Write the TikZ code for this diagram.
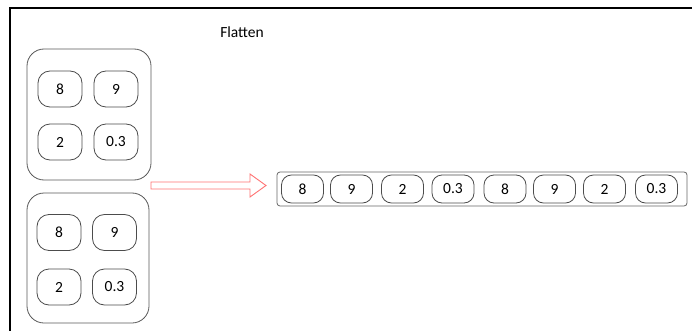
\documentclass[tikz,border=0pt]{standalone}
\usepackage{fontspec}
\setmainfont{Carlito}
\begin{document}
\begin{tikzpicture}[x=1pt,y=-1pt,
  txt/.style={font=\fontsize{15.5}{18}\selectfont,text=black},
  group/.style={draw=black!65,line width=0.8pt,rounded corners=17pt},
  cell/.style={txt,draw=black!70,line width=0.8pt,rounded corners=12pt,minimum width=44pt,minimum height=36pt,inner sep=0pt},
  fcell/.style={txt,draw=black!70,line width=0.8pt,rounded corners=10pt,minimum width=42pt,minimum height=28pt,inner sep=0pt},
  bar/.style={draw=black!60,line width=0.8pt,rounded corners=3pt},
  flatarrow/.style={draw=red!55,line width=0.9pt,fill=white,line join=miter}
]
\useasboundingbox (0,0) rectangle (692,331);
\fill[white] (0,0) rectangle (692,331);
% frame
\draw[line width=2.5pt] (10,331) -- (10,8) -- (692,8);
% title
\node[txt] (title) at (242,32) {Flatten};
% top group
\node[group,minimum width=124pt,minimum height=131pt] (g1) at (89,114.5) {};
\node[cell] (a1) at (60,89) {8};
\node[cell] (a2) at (116,89) {9};
\node[cell] (a3) at (60,142) {2};
\node[cell] (a4) at (116,142) {0.3};
% bottom group
\node[group,minimum width=122pt,minimum height=130pt] (g2) at (88,258) {};
\node[cell] (b1) at (59,232.5) {8};
\node[cell] (b2) at (114.5,232.5) {9};
\node[cell] (b3) at (59,287) {2};
\node[cell] (b4) at (114.5,287) {0.3};
% arrow (block arrow outline)
\draw[flatarrow] (151,182) -- (250,182) -- (250,174) -- (266,185.5) -- (250,197) -- (250,189) -- (151,189) -- cycle;
% flattened bar
\node[bar,minimum width=410pt,minimum height=34pt] (barbox) at (482,189) {};
\node[fcell] (c1) at (302.5,189) {8};
\node[fcell] (c2) at (351.5,189) {9};
\node[fcell] (c3) at (402.5,189) {2};
\node[fcell] (c4) at (453,189) {0.3};
\node[fcell] (c5) at (505,189) {8};
\node[fcell] (c6) at (554.5,189) {9};
\node[fcell] (c7) at (604.5,189) {2};
\node[fcell] (c8) at (656.5,189) {0.3};
\end{tikzpicture}
\end{document}
